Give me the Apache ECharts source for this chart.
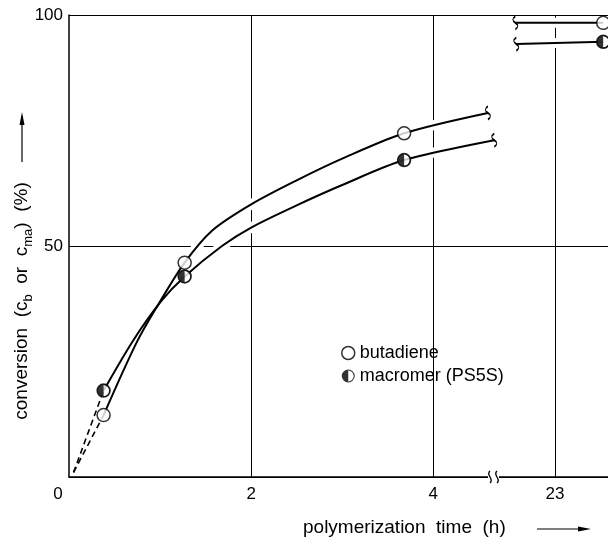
<!DOCTYPE html>
<html><head><meta charset="utf-8">
<script src="https://cdn.jsdelivr.net/npm/echarts@6/dist/echarts.min.js"></script>
<style>html,body{margin:0;padding:0;background:#fff}#c{width:608px;height:543px}</style>
</head><body><div id="c"></div>
<script>
// ---- measured data points ----
const butadieneTimes = [0.38, 1.27, 3.68];
const butadieneValues = [13.4, 46.4, 74.4];
const macromerTimes = [0.38, 1.27, 3.68];
const macromerValues = [18.7, 43.4, 68.6];
const lateTimes = [23.5];
const butadieneLateValues = [98.3];
const macromerLateValues = [94.2];

// ---- hand-drawn guide curves ----
const butadieneCurveX = [0.38, 0.75, 1.01, 1.27, 1.57, 2.0, 2.5, 3.0, 3.68, 4.6];
const butadieneCurveY = [13.4, 29.4, 38.3, 46.4, 53.3, 59.0, 64.2, 68.9, 74.4, 78.8];
const macromerCurveX = [0.38, 0.70, 1.01, 1.27, 1.68, 2.0, 2.5, 3.0, 3.68, 4.67];
const macromerCurveY = [18.7, 29.4, 38.0, 43.4, 50.0, 54.0, 58.8, 63.2, 68.6, 72.9];
const butadieneDashX = [0.05, 0.38];
const butadieneDashY = [1.0, 13.4];
const macromerDashX = [0.05, 0.38];
const macromerDashY = [1.0, 18.7];
const butadieneLateLineX = [22.59, 23.5];
const butadieneLateLineY = [98.3, 98.3];
const macromerLateLineX = [22.6, 23.5];
const macromerLateLineY = [93.7, 94.2];

// ---- ticks ----
const xTicksLeft = [0, 2, 4];
const xTicksRight = [23];
const yTicks = [0, 50, 100];

const FONT = '"Liberation Sans", Arial, sans-serif';
const pairs = (xs, ys) => xs.map((x, i) => [x, ys[i]]);
const BREAK_PATH = 'path://M3,0 Q0,3 3,6 Q6,9 3,12';
const HALF_PATH = 'path://M10,20 A10,10 0 0 1 10,0 Z M10,0 A10,10 0 1 1 10,20 A10,10 0 1 1 10,0 Z M10,1.6 A8.4,8.4 0 1 0 10,18.4 A8.4,8.4 0 1 0 10,1.6 Z';

function curveData(xs, ys, breakAt) {
  return xs.map((x, i) => {
    const isBreak = (breakAt === 'end' && i === xs.length - 1) || (breakAt === 'start' && i === 0);
    return isBreak
      ? { value: [x, ys[i]], symbol: BREAK_PATH, symbolSize: [5, 13],
          itemStyle: { color: 'transparent', borderColor: '#000', borderWidth: 1.4 } }
      : { value: [x, ys[i]] };
  });
}

const chart = echarts.init(document.getElementById('c'), null, { renderer: 'canvas' });

function halo(xs, ys, xi) {
  return { type: 'line', xAxisIndex: xi, yAxisIndex: xi, data: pairs(xs, ys), smooth: 0.3,
    symbol: 'none', silent: true, z: 20, lineStyle: { color: '#fff', width: 10 } };
}
function curve(xs, ys, xi, breakAt) {
  return { type: 'line', xAxisIndex: xi, yAxisIndex: xi, data: curveData(xs, ys, breakAt), smooth: 0.3,
    symbol: 'none', showSymbol: true, silent: true, z: 21, lineStyle: { color: '#000', width: 2 } };
}
function dashed(xs, ys) {
  return { type: 'line', xAxisIndex: 0, yAxisIndex: 0, data: pairs(xs, ys), symbol: 'none', silent: true,
    z: 21, lineStyle: { color: '#000', width: 1.6, type: [6, 4] } };
}
function gridMarks(xi, vals) {
  return { type: 'line', xAxisIndex: xi, yAxisIndex: xi, data: [], z: 0, silent: true,
    markLine: { silent: true, symbol: ['none', 'none'], label: { show: false },
      lineStyle: { color: '#000', width: 1, type: 'solid' }, emphasis: { disabled: true },
      data: vals.map(v => ({ xAxis: v })) } };
}
const openCircle = { color: '#fff', borderColor: '#000', borderWidth: 1.5 };
function squiggle(x) {
  return { type: 'bezierCurve', z: 51,
    shape: { x1: x, y1: 471, x2: x, y2: 483, cpx1: x - 5, cpy1: 475, cpx2: x + 5, cpy2: 479 },
    style: { fill: 'none', stroke: '#000', lineWidth: 1.3 } };
}

chart.setOption({
  animation: false,
  backgroundColor: '#fff',
  textStyle: { fontFamily: FONT, color: '#000' },
  grid: [
    { left: 69, top: 15, width: 428, height: 462 },
    { left: 497, top: 15, width: 111, height: 462 }
  ],
  xAxis: [
    { gridIndex: 0, type: 'value', min: 0, max: 4.7, interval: 2,
      axisLine: { lineStyle: { color: '#000', width: 1.5 } }, axisTick: { show: false }, splitLine: { show: false },
      axisLabel: { color: '#000', fontSize: 17, fontFamily: FONT, margin: 9, showMaxLabel: false,
        formatter: v => xTicksLeft.includes(v) ? (v === 0 ? '{z|0}' : String(v)) : '',
        rich: { z: { fontSize: 17, fontFamily: FONT, color: '#000', padding: [0, 22, 0, 0] } } } },
    { gridIndex: 1, type: 'value', min: 22.4, max: 23.55, interval: 0.2,
      axisLine: { lineStyle: { color: '#000', width: 1.5 } }, axisTick: { show: false }, splitLine: { show: false },
      axisLabel: { color: '#000', fontSize: 17, fontFamily: FONT, margin: 9, showMaxLabel: false,
        formatter: v => xTicksRight.some(t => Math.abs(t - v) < 1e-6) ? String(Math.round(v)) : '' } }
  ],
  yAxis: [
    { gridIndex: 0, type: 'value', min: 0, max: 100, interval: 50,
      axisLine: { show: true, lineStyle: { color: '#000', width: 1.5 } }, axisTick: { show: false },
      splitLine: { show: true, lineStyle: { color: '#000', width: 1.2 } },
      axisLabel: { color: '#000', fontSize: 17, fontFamily: FONT, margin: 6,
        formatter: v => (yTicks.includes(v) && v !== 0) ? String(v) : '' } },
    { gridIndex: 1, type: 'value', min: 0, max: 100, interval: 50,
      axisLine: { show: false }, axisTick: { show: false }, axisLabel: { show: false },
      splitLine: { show: true, lineStyle: { color: '#000', width: 1.2 } } }
  ],
  legend: {
    orient: 'vertical', left: 341, top: 344, padding: 0, itemWidth: 13, itemHeight: 13, itemGap: 5,
    textStyle: { fontSize: 18, fontFamily: FONT, color: '#000' },
    selectedMode: false,
    data: [
      { name: 'butadiene', icon: 'circle', itemStyle: openCircle },
      { name: 'macromer (PS5S)', icon: HALF_PATH, itemStyle: { color: '#000', borderWidth: 0 } }
    ]
  },
  series: [
    gridMarks(0, xTicksLeft.filter(v => v > 0)),
    gridMarks(1, xTicksRight),
    halo(butadieneCurveX, butadieneCurveY, 0),
    halo(macromerCurveX, macromerCurveY, 0),
    halo(butadieneLateLineX, butadieneLateLineY, 1),
    halo(macromerLateLineX, macromerLateLineY, 1),
    curve(butadieneCurveX, butadieneCurveY, 0, 'end'),
    curve(macromerCurveX, macromerCurveY, 0, 'end'),
    curve(butadieneLateLineX, butadieneLateLineY, 1, 'start'),
    curve(macromerLateLineX, macromerLateLineY, 1, 'start'),
    dashed(butadieneDashX, butadieneDashY),
    dashed(macromerDashX, macromerDashY),
    { name: 'butadiene', type: 'scatter', xAxisIndex: 0, yAxisIndex: 0, z: 22, symbol: 'circle', symbolSize: 13,
      itemStyle: openCircle, data: pairs(butadieneTimes, butadieneValues) },
    { name: 'butadiene', type: 'scatter', xAxisIndex: 1, yAxisIndex: 1, z: 22, symbol: 'circle', symbolSize: 13,
      itemStyle: openCircle, data: pairs(lateTimes, butadieneLateValues) },
    { name: 'macromer (PS5S)', type: 'scatter', xAxisIndex: 0, yAxisIndex: 0, z: 22, symbol: 'circle', symbolSize: 13,
      itemStyle: openCircle, data: pairs(macromerTimes, macromerValues) },
    { name: 'macromer (PS5S)', type: 'scatter', xAxisIndex: 0, yAxisIndex: 0, z: 23, symbol: HALF_PATH, symbolSize: 13,
      itemStyle: { color: '#000', borderWidth: 0 }, data: pairs(macromerTimes, macromerValues) },
    { name: 'macromer (PS5S)', type: 'scatter', xAxisIndex: 1, yAxisIndex: 1, z: 22, symbol: 'circle', symbolSize: 13,
      itemStyle: openCircle, data: pairs(lateTimes, macromerLateValues) },
    { name: 'macromer (PS5S)', type: 'scatter', xAxisIndex: 1, yAxisIndex: 1, z: 23, symbol: HALF_PATH, symbolSize: 13,
      itemStyle: { color: '#000', borderWidth: 0 }, data: pairs(lateTimes, macromerLateValues) }
  ],
  graphic: [
    // axis break on the time axis
    { type: 'rect', shape: { x: 488, y: 472, width: 11, height: 10 }, style: { fill: '#fff' }, z: 50 },
    squiggle(490),
    squiggle(497),
    // y-axis title
    { type: 'text', x: 22, y: 301, rotation: Math.PI / 2, z: 50,
      style: { text: 'conversion  (c{s|b}  or  c{s|ma})  (%)', font: '19px ' + FONT, fill: '#000',
        textAlign: 'center', textVerticalAlign: 'middle', align: 'center', verticalAlign: 'middle', lineHeight: 26,
        rich: { s: { fontSize: 13, fontFamily: FONT, fill: '#000', verticalAlign: 'bottom', lineHeight: 12 } } } },
    { type: 'line', shape: { x1: 22, y1: 162, x2: 22, y2: 116 }, style: { stroke: '#000', lineWidth: 1.2 }, z: 50 },
    { type: 'polygon', shape: { points: [[22, 112], [19.5, 125], [24.5, 125]] }, style: { fill: '#000' }, z: 50 },
    // x-axis title
    { type: 'text', x: 303, y: 528, z: 50,
      style: { text: 'polymerization  time  (h)', font: '19px ' + FONT, fill: '#000',
        textAlign: 'left', textVerticalAlign: 'middle', align: 'left', verticalAlign: 'middle' } },
    { type: 'line', shape: { x1: 537, y1: 529, x2: 586, y2: 529 }, style: { stroke: '#000', lineWidth: 1.2 }, z: 50 },
    { type: 'polygon', shape: { points: [[591, 529], [578, 526.5], [578, 531.5]] }, style: { fill: '#000' }, z: 50 }
  ]
});
</script>
</body></html>
